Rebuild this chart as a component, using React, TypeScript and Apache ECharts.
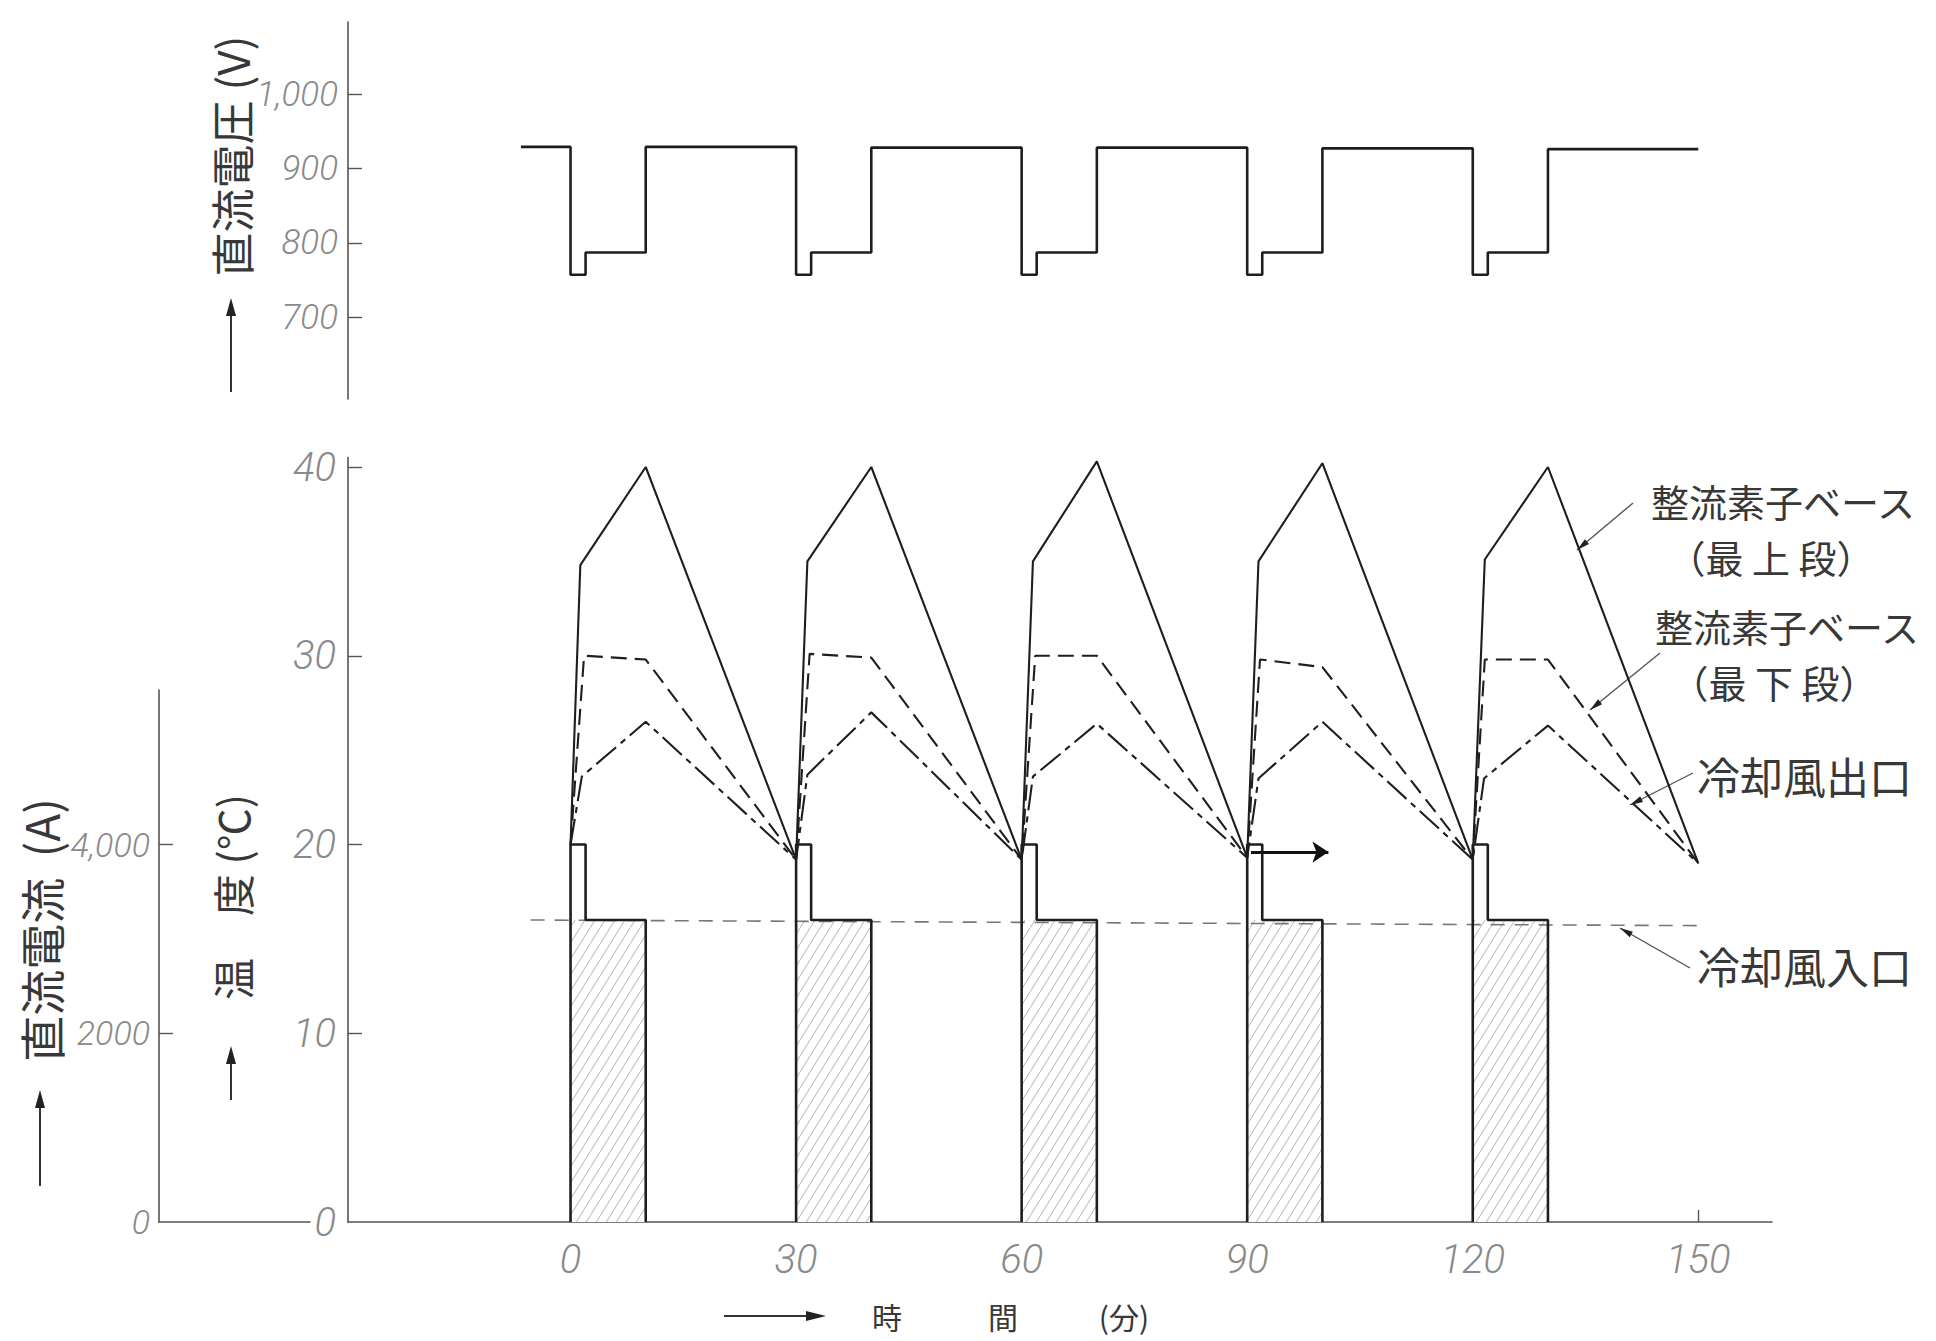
import React, { useEffect, useRef } from "react";
import * as echarts from "echarts";

// ---------------- data ----------------
const TIME_TICKS = [0, 30, 60, 90, 120, 150];
const VOLT_TICKS = [700, 800, 900, 1000];
const TEMP_TICKS = [10, 20, 30, 40];
const TEMP_LABELS = [0, 10, 20, 30, 40];
const CURR_TICKS = [2000, 4000];
const CURR_LABELS = [0, 2000, 4000];

// DC voltage (V) vs time (min)
const voltage: [number, number][] = [
  [-6.6, 929], [0, 929], [0, 757], [2, 757], [2, 787], [10, 787], [10, 929],
  [30, 929], [30, 757], [32, 757], [32, 787], [40, 787], [40, 928],
  [60, 928], [60, 757], [62, 757], [62, 787], [70, 787], [70, 928],
  [90, 928], [90, 757], [92, 757], [92, 787], [100, 787], [100, 927],
  [120, 927], [120, 757], [122, 757], [122, 787], [130, 787], [130, 926],
  [150, 926],
];

// 整流素子ベース（最上段） °C
const baseTopTemp: [number, number][] = [
  [0, 20], [1.3, 34.8], [10, 40], [30, 19.2],
  [31.5, 35], [40, 40], [60, 19.2],
  [61.5, 35], [70, 40.3], [90, 19.3],
  [91.5, 35], [100, 40.2], [120, 19.2],
  [121.6, 35.1], [130, 40], [150, 19.0],
];

// 整流素子ベース（最下段） °C
const baseBottomTemp: [number, number][] = [
  [0, 20], [1.8, 30], [10, 29.8], [30, 19.2],
  [31.8, 30.1], [40, 29.9], [60, 19.2],
  [61.8, 30], [70, 30], [90, 19.3],
  [91.7, 29.8], [100, 29.4], [120, 19.2],
  [121.6, 29.8], [130, 29.8], [150, 19.0],
];

// 冷却風出口 °C
const outletTemp: [number, number][] = [
  [0, 20], [1.5, 23.6], [10, 26.5], [30, 19.2],
  [31.5, 23.7], [40, 27.0], [60, 19.2],
  [61.5, 23.6], [70, 26.4], [90, 19.3],
  [91.5, 23.5], [100, 26.5], [120, 19.2],
  [121.5, 23.5], [130, 26.3], [150, 19.0],
];

// 冷却風入口 °C
const inletTemp: [number, number][] = [[-5.3, 16.0], [150.5, 15.7]];

// DC current (A): outline of each load pulse ('-' breaks the line)
const currentOutline: [number, number | string][] = [
  [0, 0], [0, 4000], [2, 4000], [2, 3200], [10, 3200], [10, 0], [10, "-"],
  [30, 0], [30, 4000], [32, 4000], [32, 3200], [40, 3200], [40, 0], [40, "-"],
  [60, 0], [60, 4000], [62, 4000], [62, 3200], [70, 3200], [70, 0], [70, "-"],
  [90, 0], [90, 4000], [92, 4000], [92, 3200], [100, 3200], [100, 0], [100, "-"],
  [120, 0], [120, 4000], [122, 4000], [122, 3200], [130, 3200], [130, 0],
];

// hatched part of each pulse (3200 A level)
const currentHatched: [number, number | string][] = [
  [0, 3200], [10, 3200], [10, "-"],
  [30, 3200], [40, 3200], [40, "-"],
  [60, 3200], [70, 3200], [70, "-"],
  [90, 3200], [100, 3200], [100, "-"],
  [120, 3200], [130, 3200],
];

// small arrow drawn in the original near t = 90 min
const markerArrow: [number, number][] = [[90.5, 19.6], [100.8, 19.6]];

const NOTE_TOP = ["整流素子ベース", "（最 上 段）"];
const NOTE_BOTTOM = ["整流素子ベース", "（最 下 段）"];
const NOTE_OUT = "冷却風出口";
const NOTE_IN = "冷却風入口";

// ---------------- layout ----------------
const W = 1936;
const H = 1341;
const AX_X = 348;
const AX_RIGHT = 1772;
const BASE_Y = 1222;
const X_MIN = -29.6;
const X_MAX = 159.8;
const DEG_PX = 18.875;
const T_TOP = 40.5;
const V_MIN = 590;
const V_MAX = 1097;
const V_TOP_Y = 22;
const V_BOTTOM_Y = 399;
const A_PER_DEG = 200;
const CUR_AX_X = 159;
const CUR_AX_END = 310;
const CUR_AX_TOP = 690;

const NUM_FONT = 'Roboto, "Liberation Sans", sans-serif';
const CJK_FONT = '"Noto Sans CJK JP", "Noto Sans CJK SC", sans-serif';
const INK = "#1e1e1e";
const AXIS = "#555";
const NUM_COLOR = "#8a8a8a";
const TEXT_COLOR = "#383838";

function makeHatch(): HTMLCanvasElement {
  const w = 10;
  const h = 16;
  const c = document.createElement("canvas");
  c.width = w;
  c.height = h;
  const g = c.getContext("2d") as CanvasRenderingContext2D;
  g.fillStyle = "#ffffff";
  g.fillRect(0, 0, w, h);
  g.strokeStyle = "#c2c2c2";
  g.lineWidth = 1.1;
  g.beginPath();
  g.moveTo(0, h);
  g.lineTo(w, 0);
  g.moveTo(-w, h);
  g.lineTo(0, 0);
  g.moveTo(w, 2 * h);
  g.lineTo(2 * w, h);
  g.stroke();
  return c;
}

function dart(tipX: number, tipY: number, fromX: number, fromY: number, len = 14, half = 3.5) {
  const dx = tipX - fromX;
  const dy = tipY - fromY;
  const d = Math.hypot(dx, dy);
  const ux = dx / d;
  const uy = dy / d;
  const bx = tipX - ux * len;
  const by = tipY - uy * len;
  return [
    [tipX, tipY],
    [bx - uy * half, by + ux * half],
    [bx + uy * half, by - ux * half],
  ];
}

function leader(x1: number, y1: number, x2: number, y2: number) {
  return [
    { type: "line", shape: { x1, y1, x2, y2 }, style: { stroke: "#555", lineWidth: 1.4 }, silent: true },
    { type: "polygon", shape: { points: dart(x2, y2, x1, y1, 13, 3.2) }, style: { fill: "#222" }, silent: true },
  ];
}

function upArrow(x: number, yTip: number, yEnd: number) {
  return [
    { type: "line", shape: { x1: x, y1: yEnd, x2: x, y2: yTip + 14 }, style: { stroke: "#333", lineWidth: 2 }, silent: true },
    { type: "polygon", shape: { points: dart(x, yTip, x, yEnd, 18, 5) }, style: { fill: "#222" }, silent: true },
  ];
}

function vText(x: number, y: number, text: string, size: number) {
  return {
    type: "text",
    x,
    y,
    rotation: Math.PI / 2,
    silent: true,
    style: { text, fontSize: size, fontFamily: CJK_FONT, fill: TEXT_COLOR, align: "center", verticalAlign: "middle" },
  };
}

function hText(x: number, y: number, text: string, size: number, align = "left") {
  return {
    type: "text",
    x,
    y,
    silent: true,
    style: { text, fontSize: size, fontFamily: CJK_FONT, fill: TEXT_COLOR, align, verticalAlign: "middle" },
  };
}

const numLabel = (size: number) => ({
  fontSize: size,
  fontStyle: "italic",
  fontWeight: 300,
  fontFamily: NUM_FONT,
  color: NUM_COLOR,
});

export default function App() {
  const ref = useRef<HTMLDivElement | null>(null);

  useEffect(() => {
    if (!ref.current) return;
    const chart = echarts.init(ref.current, null, { renderer: "svg" });
    const hatch = makeHatch();
    const lineBase = { type: "line", symbol: "none", silent: true, connectNulls: false };
    const tGridTop = BASE_Y - T_TOP * DEG_PX;
    const curVisibleMax = ((BASE_Y - CUR_AX_TOP) / DEG_PX) * A_PER_DEG;

    const graphic: any[] = [
      // axis titles
      vText(231, 156, "直流電圧 (V)", 44),
      ...upArrow(231, 298, 392),
      vText(231, 897, "温　度 (℃)", 42),
      ...upArrow(231, 1046, 1100),
      vText(40, 930, "直流電流  (A)", 46),
      ...upArrow(40, 1090, 1186),
      // time axis title
      { type: "line", shape: { x1: 724, y1: 1316, x2: 808, y2: 1316 }, style: { stroke: "#333", lineWidth: 2 }, silent: true },
      { type: "polygon", shape: { points: dart(826, 1316, 724, 1316, 20, 5) }, style: { fill: "#222" }, silent: true },
      hText(887, 1316, "時", 30, "center"),
      hText(1003, 1316, "間", 30, "center"),
      hText(1124, 1316, "(分)", 30, "center"),
      // annotations
      hText(1783, 500, NOTE_TOP[0], 38, "center"),
      hText(1771, 556, NOTE_TOP[1], 38, "center"),
      ...leader(1633, 503, 1577, 550),
      hText(1787, 625, NOTE_BOTTOM[0], 38, "center"),
      hText(1774, 681, NOTE_BOTTOM[1], 38, "center"),
      ...leader(1660, 653, 1590, 710),
      hText(1697, 775, NOTE_OUT, 43),
      ...leader(1693, 773, 1630, 805),
      hText(1697, 965, NOTE_IN, 43),
      ...leader(1690, 968, 1620, 928),
    ];

    const option: any = {
      animation: false,
      backgroundColor: "#ffffff",
      grid: [
        { left: AX_X, right: W - AX_RIGHT, top: V_TOP_Y, height: V_BOTTOM_Y - V_TOP_Y, outerBoundsMode: "none", containLabel: false },
        { left: AX_X, right: W - AX_RIGHT, top: tGridTop, height: BASE_Y - tGridTop, outerBoundsMode: "none", containLabel: false },
        { left: CUR_AX_X, width: CUR_AX_END - CUR_AX_X, top: CUR_AX_TOP, height: BASE_Y - CUR_AX_TOP, outerBoundsMode: "none", containLabel: false },
      ],
      xAxis: [
        { type: "value", gridIndex: 0, min: X_MIN, max: X_MAX, show: false },
        {
          type: "value",
          gridIndex: 1,
          min: X_MIN,
          max: X_MAX,
          axisLine: { show: true, onZero: false, lineStyle: { color: AXIS, width: 1.6 } },
          axisTick: { show: true, inside: true, length: 12, customValues: TIME_TICKS, lineStyle: { color: AXIS, width: 1.4 } },
          axisLabel: { show: true, customValues: TIME_TICKS, margin: 17, ...numLabel(40) },
          splitLine: { show: false },
        },
        {
          type: "value",
          gridIndex: 2,
          min: 0,
          max: 1,
          axisLine: { show: true, onZero: false, lineStyle: { color: AXIS, width: 1.6 } },
          axisTick: { show: false },
          axisLabel: { show: false },
          splitLine: { show: false },
        },
      ],
      yAxis: [
        {
          type: "value",
          gridIndex: 0,
          min: V_MIN,
          max: V_MAX,
          axisLine: { show: true, onZero: false, lineStyle: { color: AXIS, width: 1.6 } },
          axisTick: { show: true, inside: true, length: 14, customValues: VOLT_TICKS, lineStyle: { color: AXIS, width: 1.4 } },
          axisLabel: {
            show: true,
            customValues: VOLT_TICKS,
            margin: 10,
            formatter: (v: number) => (v >= 1000 ? "1,000" : String(v)),
            ...numLabel(35),
          },
          splitLine: { show: false },
        },
        {
          type: "value",
          gridIndex: 1,
          min: 0,
          max: T_TOP,
          axisLine: { show: true, onZero: false, lineStyle: { color: AXIS, width: 1.6 } },
          axisTick: { show: true, inside: true, length: 14, customValues: TEMP_TICKS, lineStyle: { color: AXIS, width: 1.4 } },
          axisLabel: { show: true, customValues: TEMP_LABELS, margin: 12, ...numLabel(40) },
          splitLine: { show: false },
        },
        { type: "value", gridIndex: 1, min: 0, max: T_TOP * A_PER_DEG, show: false },
        {
          type: "value",
          gridIndex: 2,
          min: 0,
          max: curVisibleMax,
          axisLine: { show: true, onZero: false, lineStyle: { color: AXIS, width: 1.6 } },
          axisTick: { show: true, inside: true, length: 14, customValues: CURR_TICKS, lineStyle: { color: AXIS, width: 1.4 } },
          axisLabel: {
            show: true,
            customValues: CURR_LABELS,
            margin: 9,
            formatter: (v: number) => (v === 4000 ? "4,000" : String(v)),
            ...numLabel(34),
          },
          splitLine: { show: false },
        },
      ],
      series: [
        { ...lineBase, name: "直流電圧", xAxisIndex: 0, yAxisIndex: 0, data: voltage, lineStyle: { color: INK, width: 2.6 }, z: 3 },
        {
          ...lineBase,
          name: "直流電流（斜線）",
          xAxisIndex: 1,
          yAxisIndex: 2,
          data: currentHatched,
          lineStyle: { width: 0, opacity: 0 },
          areaStyle: { color: { image: hatch, repeat: "repeat", imageWidth: 10, imageHeight: 16 }, opacity: 1 },
          z: 1,
        },
        { ...lineBase, name: "直流電流", xAxisIndex: 1, yAxisIndex: 2, data: currentOutline, lineStyle: { color: INK, width: 2.6 }, z: 4 },
        {
          ...lineBase,
          name: NOTE_IN,
          xAxisIndex: 1,
          yAxisIndex: 1,
          data: inletTemp,
          lineStyle: { color: "#777", width: 1.6, type: [14, 10] },
          z: 2,
          markLine: {
            silent: true,
            symbol: ["none", "arrow"],
            symbolSize: 16,
            label: { show: false },
            lineStyle: { color: "#111", width: 3.2, type: "solid" },
            data: [[{ coord: markerArrow[0] }, { coord: markerArrow[1] }]],
          },
        },
        { ...lineBase, name: "整流素子ベース（最上段）", xAxisIndex: 1, yAxisIndex: 1, data: baseTopTemp, lineStyle: { color: INK, width: 2.1 }, z: 5 },
        {
          ...lineBase,
          name: "整流素子ベース（最下段）",
          xAxisIndex: 1,
          yAxisIndex: 1,
          data: baseBottomTemp,
          lineStyle: { color: INK, width: 2.1, type: [16, 8] },
          z: 5,
        },
        {
          ...lineBase,
          name: NOTE_OUT,
          xAxisIndex: 1,
          yAxisIndex: 1,
          data: outletTemp,
          lineStyle: { color: INK, width: 2.1, type: [26, 6, 6, 6] },
          z: 5,
        },
      ],
      graphic,
    };

    chart.setOption(option);
    return () => {
      chart.dispose();
    };
  }, []);

  return (
    <div
      ref={ref}
      style={{ position: "fixed", left: 0, top: 0, width: W, height: H, background: "#ffffff" }}
    />
  );
}
